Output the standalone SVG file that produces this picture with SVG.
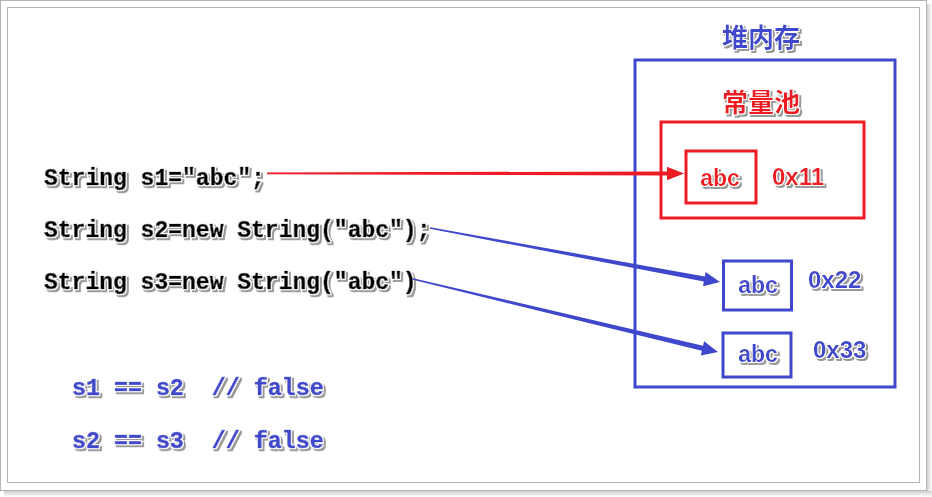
<svg xmlns="http://www.w3.org/2000/svg" width="932" height="497" viewBox="0 0 932 497">
<defs>
<filter id="sh" x="-10%" y="-30%" width="130%" height="170%">
<feMorphology in="SourceAlpha" operator="dilate" radius="1" result="d"/>
<feFlood flood-color="#ffffff"/><feComposite in2="d" operator="in" result="w"/>
<feOffset in="d" dx="1.5" dy="1.5" result="o"/>
<feFlood flood-color="#9a9a9a"/><feComposite in2="o" operator="in" result="g"/>
<feMerge><feMergeNode in="g"/><feMergeNode in="w"/><feMergeNode in="SourceGraphic"/></feMerge>
</filter>
<linearGradient id="shr" x1="0" x2="1" y1="0" y2="0"><stop offset="0" stop-color="#d0d0d0"/><stop offset="1" stop-color="#ffffff"/></linearGradient>
<linearGradient id="shb" x1="0" x2="0" y1="0" y2="1"><stop offset="0" stop-color="#d0d0d0"/><stop offset="1" stop-color="#ffffff"/></linearGradient>
</defs>
<style>
.code{font-family:"Liberation Mono","DejaVu Sans Mono",monospace;font-weight:bold;font-size:23px;fill:#000;stroke:#000;stroke-width:0.7;white-space:pre}
.cmp{font-family:"Liberation Mono","DejaVu Sans Mono",monospace;font-weight:bold;font-size:23.3px;fill:#3f48cc;stroke:#3f48cc;stroke-width:0.6;white-space:pre}
.cjk{font-family:"Noto Sans CJK SC","Noto Sans CJK JP",sans-serif;font-weight:bold;font-size:26px;text-anchor:middle}
.lab{font-family:"Liberation Sans",Arial,sans-serif;font-weight:bold;font-size:23px;text-anchor:middle}
.addr{font-family:"Liberation Sans",Arial,sans-serif;font-weight:bold;font-size:24px}
.red{fill:#ed1c24}
.blue{fill:#3f48cc}
.rbox{fill:none;stroke:#ed1c24;stroke-width:3}
.bbox{fill:none;stroke:#3f48cc;stroke-width:3}
</style>
<rect width="932" height="497" fill="#ffffff"/>
<rect x="927" y="4" width="5" height="493" fill="url(#shr)"/>
<rect x="4" y="491" width="928" height="6" fill="url(#shb)"/>
<rect x="0.5" y="0.5" width="926" height="490" fill="#ffffff" stroke="#b4b4b4" stroke-width="1"/>
<rect x="7.5" y="7.5" width="912" height="475" fill="none" stroke="#b4b4b4" stroke-width="1"/>

<g id="code" filter="url(#sh)">
<text class="code" x="44" y="185">String s1="abc";</text>
<text class="code" x="44" y="237">String s2=new String("abc");</text>
<text class="code" x="44" y="289">String s3=new String("abc")</text>
</g>
<g id="compare" filter="url(#sh)">
<text class="cmp" x="72" y="395">s1 == s2  // false</text>
<text class="cmp" x="72" y="448">s2 == s3  // false</text>
</g>

<g id="heap">
<rect class="bbox" x="635" y="60" width="260" height="327"/>
<text class="cjk blue" x="761" y="47" filter="url(#sh)">堆内存</text>
</g>
<g id="pool">
<rect class="rbox" x="661" y="122" width="203" height="96"/>
<text class="cjk red" x="761" y="112" filter="url(#sh)">常量池</text>
</g>
<g id="abc1">
<rect class="rbox" x="686" y="151" width="70" height="52"/>
<text class="lab red" x="720" y="186" filter="url(#sh)">abc</text>
<text class="addr red" x="772" y="185" filter="url(#sh)">0x11</text>
</g>
<g id="abc2">
<rect class="bbox" x="723.5" y="261" width="68" height="49"/>
<text class="lab blue" x="758" y="293" filter="url(#sh)">abc</text>
<text class="addr blue" x="808" y="288" filter="url(#sh)">0x22</text>
</g>
<g id="abc3">
<rect class="bbox" x="723" y="333" width="68" height="44"/>
<text class="lab blue" x="758" y="362" filter="url(#sh)">abc</text>
<text class="addr blue" x="813" y="358" filter="url(#sh)">0x33</text>
</g>

<g id="connectors">
<polygon class="red" points="267,172.6 667,171.4 667,166.8 684,173.5 667,180.2 667,175.6 267,174.2"/>
<polygon class="blue" points="430.15,227.21 704.76,276.61 705.6,272 720,282 703,286.2 703.84,281.53 429.85,228.79"/>
<polygon class="blue" points="413.19,278.22 703.02,345.85 704.1,341.2 718,352 700.8,355.4 701.86,350.71 412.81,279.78"/>
</g>
</svg>
